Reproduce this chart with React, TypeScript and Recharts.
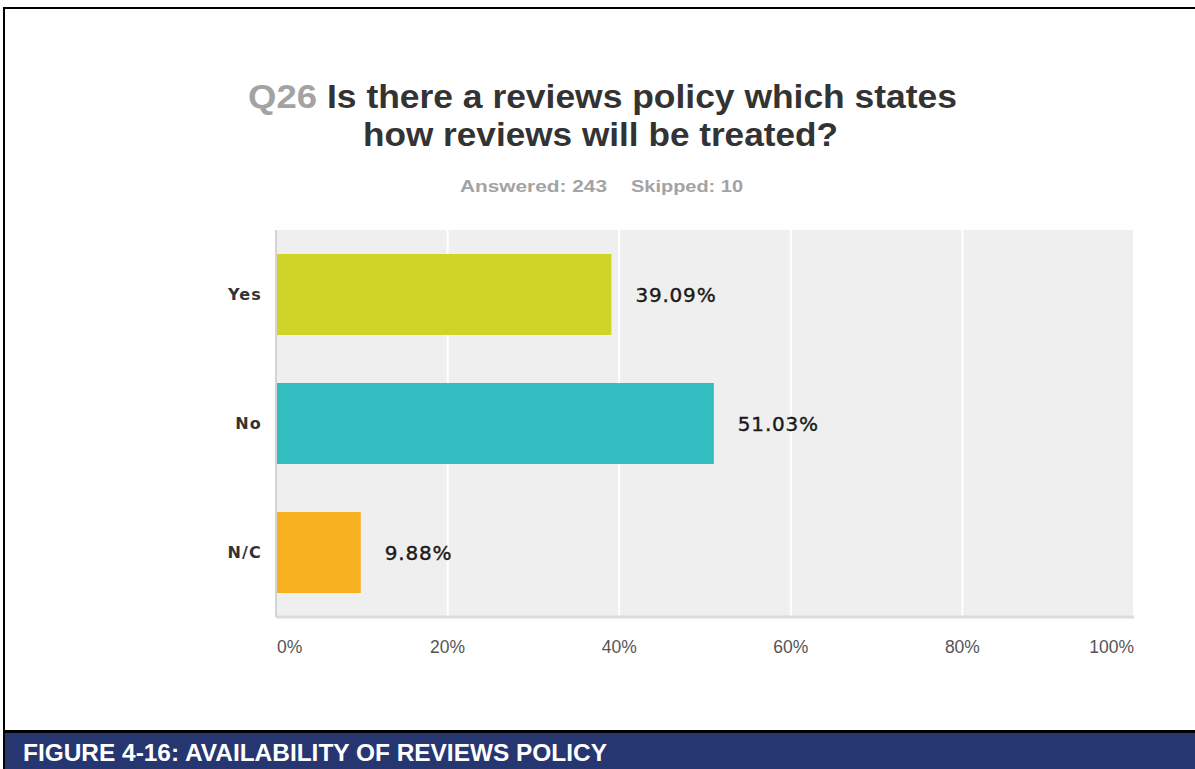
import React from "react";
import { BarChart, Bar, XAxis, YAxis, CartesianGrid, Cell, LabelList } from "recharts";

const categories = ["Yes", "No", "N/C"];
const percentValues = [39.09, 51.03, 9.88];
const barColors = ["#d0d429", "#33bdc0", "#f7b01f"];
const xTicks = [0, 20, 40, 60, 80, 100];
const titleQ = "Q26";
const titleLine1 = "Is there a reviews policy which states";
const titleLine2 = "how reviews will be treated?";
const answeredText = "Answered: 243";
const skippedText = "Skipped: 10";
const figureCaption = "FIGURE 4-16:  AVAILABILITY OF REVIEWS POLICY";

const data = categories.map((c, i) => ({ name: c, value: percentValues[i] }));

const XTick = (props: any) => {
  const { x, y, payload, index } = props;
  const last = xTicks.length - 1;
  const anchor = index === 0 ? "start" : index === last ? "end" : "middle";
  const dx = index === 0 ? 1 : 0;
  return (
    <text x={x + dx} y={y + 28} textAnchor={anchor} fontFamily="'Liberation Sans', Arial, sans-serif" fontSize={17.5} fill="#555">
      {payload.value}%
    </text>
  );
};

const YTick = (props: any) => {
  const { y, payload } = props;
  return (
    <text x={262} y={y + 5} textAnchor="end" fontFamily="'DejaVu Sans', Verdana, sans-serif" fontWeight="bold" fontSize={16} letterSpacing={1.2} fill="#333">
      {payload.value}
    </text>
  );
};

export default function App() {
  return (
    <div style={{ position: "absolute", left: 0, top: 0, width: 1195, height: 769, background: "#fff", overflow: "hidden" }}>
      <div style={{ position: "absolute", left: 0, top: 0 }}>
        <BarChart
          width={1195}
          height={769}
          data={data}
          layout="vertical"
          margin={{ top: 230, right: 61, bottom: 122, left: 216 }}
          barSize={81}
        >
          <CartesianGrid horizontal={false} fill="#efefef" stroke="#ffffff" strokeWidth={2} />
          <XAxis
            type="number"
            domain={[0, 100]}
            ticks={xTicks}
            height={30}
            axisLine={{ stroke: "#dcdcdc", strokeWidth: 3 }}
            tickLine={false}
            tick={<XTick />}
            interval={0}
          />
          <YAxis
            type="category"
            dataKey="name"
            width={60}
            axisLine={{ stroke: "#d4d4d4", strokeWidth: 2 }}
            tickLine={false}
            tick={<YTick />}
          />
          <Bar dataKey="value" isAnimationActive={false}>
            {data.map((d, i) => (
              <Cell key={d.name} fill={barColors[i]} />
            ))}
            <LabelList
              dataKey="value"
              position="right"
              offset={24}
              formatter={(v: any) => `${Number(v).toFixed(2)}%`}
              style={{ fontFamily: "'DejaVu Sans', Verdana, sans-serif", fontSize: 20, fill: "#1a1a1a", stroke: "#1a1a1a", strokeWidth: 0.4, letterSpacing: 0.8 }}
            />
          </Bar>
        </BarChart>
      </div>
      <svg width={1195} height={769} style={{ position: "absolute", left: 0, top: 0, pointerEvents: "none" }}>
        <rect x={3} y={7} width={1195} height={2} fill="#000" />
        <rect x={3} y={7} width={2} height={762} fill="#000" />
        <rect x={3} y={730} width={1195} height={3} fill="#000" />
        <rect x={5} y={733} width={1195} height={36} fill="#263671" />
        <text x={23} y={761} fontFamily="'Liberation Sans Narrow', 'Liberation Sans', Arial, sans-serif" fontWeight="bold" fontSize={24} fill="#fff" textLength={584} lengthAdjust="spacingAndGlyphs">
          {figureCaption}
        </text>
        <text x={248} y={108} fontFamily="'Liberation Sans', Arial, sans-serif" fontWeight="bold" fontSize={34} fill="#a3a3a3" textLength={69} lengthAdjust="spacingAndGlyphs">
          {titleQ}
        </text>
        <text x={327} y={108} fontFamily="'Liberation Sans', Arial, sans-serif" fontWeight="bold" fontSize={34} fill="#333" textLength={630} lengthAdjust="spacingAndGlyphs">
          {titleLine1}
        </text>
        <text x={363} y={146} fontFamily="'Liberation Sans', Arial, sans-serif" fontWeight="bold" fontSize={34} fill="#333" textLength={475} lengthAdjust="spacingAndGlyphs">
          {titleLine2}
        </text>
        <text x={460} y={192} fontFamily="'Liberation Sans', Arial, sans-serif" fontWeight="bold" fontSize={17} fill="#a3a3a3" textLength={147} lengthAdjust="spacingAndGlyphs">
          {answeredText}
        </text>
        <text x={631} y={192} fontFamily="'Liberation Sans', Arial, sans-serif" fontWeight="bold" fontSize={17} fill="#a3a3a3" textLength={112} lengthAdjust="spacingAndGlyphs">
          {skippedText}
        </text>
      </svg>
    </div>
  );
}
